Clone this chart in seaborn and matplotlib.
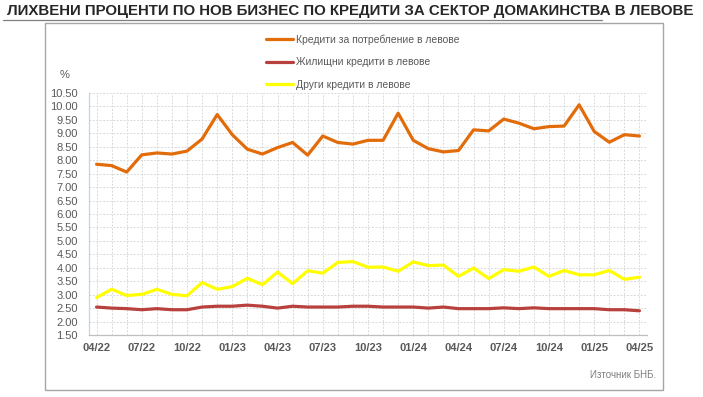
import numpy as np
import pandas as pd
import matplotlib
matplotlib.use("Agg")
import matplotlib.pyplot as plt
import seaborn as sns
from matplotlib.patches import Rectangle
from matplotlib.lines import Line2D

months = ["04/22","05/22","06/22","07/22","08/22","09/22","10/22","11/22","12/22",
          "01/23","02/23","03/23","04/23","05/23","06/23","07/23","08/23","09/23",
          "10/23","11/23","12/23","01/24","02/24","03/24","04/24","05/24","06/24",
          "07/24","08/24","09/24","10/24","11/24","12/24","01/25","02/25","03/25","04/25"]

consumer = [7.85, 7.80, 7.56, 8.20, 8.27, 8.23, 8.34, 8.79, 9.70, 8.95, 8.41, 8.23,
            8.47, 8.66, 8.19, 8.90, 8.66, 8.60, 8.74, 8.74, 9.75, 8.74, 8.43, 8.31,
            8.36, 9.13, 9.09, 9.53, 9.38, 9.17, 9.25, 9.27, 10.06, 9.07, 8.67, 8.95, 8.90]

housing = [2.54, 2.50, 2.48, 2.44, 2.48, 2.44, 2.44, 2.54, 2.57, 2.57, 2.61, 2.57,
           2.50, 2.57, 2.54, 2.54, 2.54, 2.57, 2.57, 2.54, 2.54, 2.54, 2.50, 2.54,
           2.48, 2.48, 2.48, 2.51, 2.48, 2.51, 2.48, 2.48, 2.48, 2.48, 2.44, 2.44, 2.40]

other = [2.89, 3.20, 2.97, 3.01, 3.20, 3.01, 2.96, 3.45, 3.20, 3.30, 3.61, 3.37,
         3.84, 3.41, 3.89, 3.80, 4.20, 4.23, 4.02, 4.03, 3.87, 4.22, 4.08, 4.10,
         3.68, 3.99, 3.60, 3.93, 3.87, 4.03, 3.68, 3.90, 3.74, 3.74, 3.90, 3.57, 3.65]

series_names = ["Кредити за потребление в левове",
                "Жилищни кредити в левове",
                "Други кредити в левове"]
tick_labels = months[::3]

title = "ЛИХВЕНИ ПРОЦЕНТИ ПО НОВ БИЗНЕС ПО КРЕДИТИ ЗА СЕКТОР ДОМАКИНСТВА В ЛЕВОВЕ"
source = "Източник БНБ."

colors = ["#E36C0A", "#B8403D", "#FFFF00"]

df = pd.DataFrame({
    "idx": list(range(len(months))) * 3,
    "value": consumer + housing + other,
    "series": sum([[n] * len(months) for n in series_names], []),
})

sns.set_style("white")
plt.rcParams["font.family"] = ["Liberation Sans", "DejaVu Sans"]

fig = plt.figure(figsize=(7.03, 3.97), dpi=100)
ax = fig.add_axes([89/703, 1-335/397, (647-89)/703, (335-93)/397])

# frame box
fig.patches.append(Rectangle((45/703, 1-390/397), (663-45)/703, (390-23)/397,
                             transform=fig.transFigure, fill=False,
                             edgecolor="#A6A6A6", lw=1.0, zorder=0))
# title + underline
fig.text(7/703, 1-11/397, title, fontsize=10.8, fontweight="bold",
         family=["Liberation Sans", "DejaVu Sans"],
         color="#262626", va="center", ha="left")
fig.add_artist(Line2D([3/703, 602/703], [1-19.5/397, 1-19.5/397],
                      transform=fig.transFigure, color="#7F7F7F", lw=0.9))

sns.lineplot(data=df, x="idx", y="value", hue="series", palette=colors,
             hue_order=series_names, linewidth=2.3, ax=ax, legend=False, sort=False)

ax.set_xlim(-0.5, len(months) - 0.5)
ax.set_ylim(1.5, 10.5)
ax.set_yticks(np.arange(1.5, 10.51, 0.5))
ax.set_yticklabels([f"{v:.2f}" for v in np.arange(1.5, 10.51, 0.5)])
ax.set_xticks(range(0, len(months), 3))
ax.set_xticklabels(tick_labels, fontweight="bold")
ax.set_xticks(np.arange(-0.5, len(months)), minor=True)
ax.tick_params(axis="x", which="major", length=0, pad=6, labelsize=8, labelcolor="#595959")
ax.tick_params(axis="x", which="minor", length=4, color="#BFBFBF", width=0.8, direction="out")
ax.tick_params(axis="y", length=0, labelsize=8, labelcolor="#595959", pad=8)
ax.set_xlabel("")
ax.set_ylabel("")

# grid
for i in range(len(months)):
    ax.axvline(i, color="#D9D9D9", lw=0.7, ls=(0, (2, 1.5)), zorder=0)
for v in np.arange(2.0, 10.51, 0.5):
    ax.axhline(v, color="#D9D9D9", lw=0.7, ls=(0, (2, 1.5)), zorder=0)

for s in ["top", "right"]:
    ax.spines[s].set_visible(False)
ax.spines["left"].set_color("#BDD7EE")
ax.spines["left"].set_linewidth(0.9)
ax.spines["bottom"].set_color("#BFBFBF")
ax.spines["bottom"].set_linewidth(0.9)

fig.text(65/703, 1-75/397, "%", fontsize=8, color="#595959", ha="center", va="center")

handles = [Line2D([], [], color=c, lw=2.3) for c in colors]
fig.legend(handles, series_names, loc="upper left",
           bbox_to_anchor=(257/703, 1-25/397), frameon=False, fontsize=7.5,
           handlelength=2.6, handletextpad=0.2, labelspacing=1.2,
           labelcolor="#595959")

fig.text(656/703, 1-375/397, source, fontsize=7, color="#7F7F7F",
         ha="right", va="center")

fig.savefig("out.png", dpi=100)
